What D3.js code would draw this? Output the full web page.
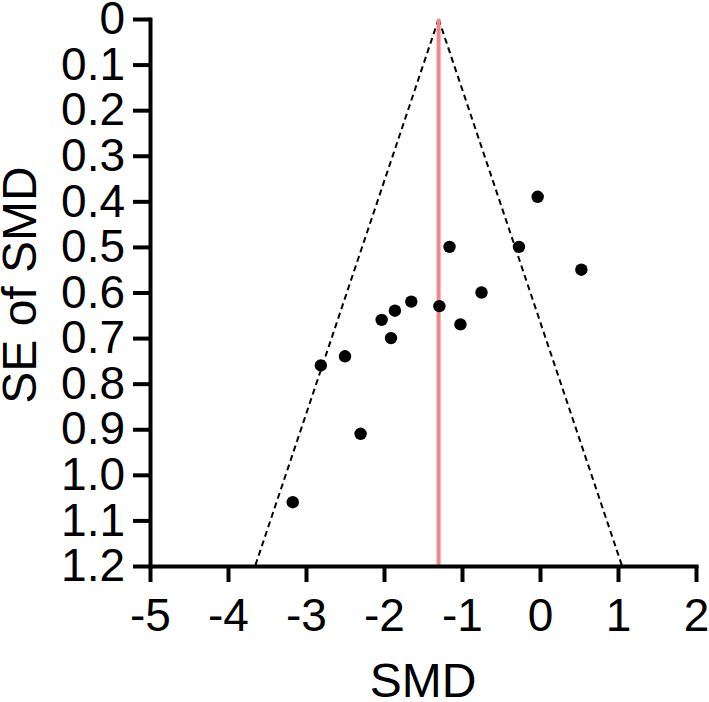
<!DOCTYPE html>
<html>
<head>
<meta charset="utf-8">
<script src="https://cdn.jsdelivr.net/npm/d3@7"></script>
<style>
  html, body { margin: 0; padding: 0; background: #fff; }
  svg { display: block; }
  text { font-family: "Liberation Sans", Arial, sans-serif; fill: #000; }
</style>
</head>
<body>
<svg id="chart" width="709" height="702"></svg>
<script>
// Data
const smd = [-0.03, -1.16, -0.27, 0.53, -0.75, -1.65, -1.29, -1.86, -2.03, -1.02, -1.91, -2.50, -2.81, -2.30, -3.17];
const seSmd = [0.39, 0.50, 0.50, 0.55, 0.60, 0.62, 0.63, 0.64, 0.66, 0.67, 0.70, 0.74, 0.76, 0.91, 1.06];
const pooledSmd = -1.30;
const xTicks = [-5, -4, -3, -2, -1, 0, 1, 2];
const yTicks = [0, 0.1, 0.2, 0.3, 0.4, 0.5, 0.6, 0.7, 0.8, 0.9, 1.0, 1.1, 1.2];
const yTickLabels = ["0", "0.1", "0.2", "0.3", "0.4", "0.5", "0.6", "0.7", "0.8", "0.9", "1.0", "1.1", "1.2"];
const zCrit = 1.96;

const svg = d3.select("#chart");
const mLeft = 150, mRight = 696, mTop = 19, mBottom = 566;

const x = d3.scaleLinear().domain([-5, 2]).range([mLeft, mRight]);
const y = d3.scaleLinear().domain([0, 1.2]).range([mTop, mBottom]);

const fs = 46, fsTitle = 48;

// Funnel (dashed)
const seMax = 1.2;
const funnel = [
  [[pooledSmd, 0], [pooledSmd - zCrit * seMax, seMax]],
  [[pooledSmd, 0], [pooledSmd + zCrit * seMax, seMax]]
];
svg.selectAll("line.funnel").data(funnel).enter().append("line")
  .attr("class", "funnel")
  .attr("x1", d => x(d[0][0])).attr("y1", d => y(d[0][1]))
  .attr("x2", d => x(d[1][0])).attr("y2", d => y(d[1][1]))
  .attr("stroke", "#000").attr("stroke-width", 2)
  .attr("stroke-dasharray", "6,4");

// Pooled line
svg.append("line")
  .attr("x1", x(pooledSmd)).attr("x2", x(pooledSmd))
  .attr("y1", y(0)).attr("y2", y(1.2))
  .attr("stroke", "#f48687").attr("stroke-width", 4);

// Points
svg.selectAll("circle.pt").data(smd.map((v, i) => [v, seSmd[i]])).enter().append("circle")
  .attr("class", "pt")
  .attr("cx", d => x(d[0])).attr("cy", d => y(d[1]))
  .attr("r", 6.2).attr("fill", "#000");

// Axes
const yAxis = d3.axisLeft(y).tickValues(yTicks).tickFormat((d, i) => yTickLabels[i])
  .tickSizeInner(17).tickSizeOuter(0).tickPadding(8);
const gy = svg.append("g").attr("transform", `translate(${mLeft},0)`).call(yAxis);

const xAxis = d3.axisBottom(x).tickValues(xTicks).tickFormat(d3.format("d"))
  .tickSizeInner(16).tickSizeOuter(0).tickPadding(16);
const gx = svg.append("g").attr("transform", `translate(0,${mBottom})`).call(xAxis);

[gx, gy].forEach(g => {
  g.selectAll("path.domain").attr("stroke", "#000").attr("stroke-width", 4).attr("stroke-linecap", "square");
  g.selectAll(".tick line").attr("stroke", "#000").attr("stroke-width", 4);
  g.selectAll(".tick text").attr("font-size", fs).attr("font-family", "Liberation Sans, Arial, sans-serif").attr("fill", "#000");
});
gx.selectAll(".tick text").text(d => d < 0 ? "-" + Math.abs(d) : String(d));

// Titles
svg.append("text")
  .attr("x", (mLeft + mRight) / 2).attr("y", 697)
  .attr("text-anchor", "middle").attr("font-size", fsTitle)
  .text("SMD");

svg.append("text")
  .attr("transform", `translate(36,285) rotate(-90)`)
  .attr("text-anchor", "middle").attr("font-size", fsTitle)
  .text("SE of SMD");
</script>
</body>
</html>
